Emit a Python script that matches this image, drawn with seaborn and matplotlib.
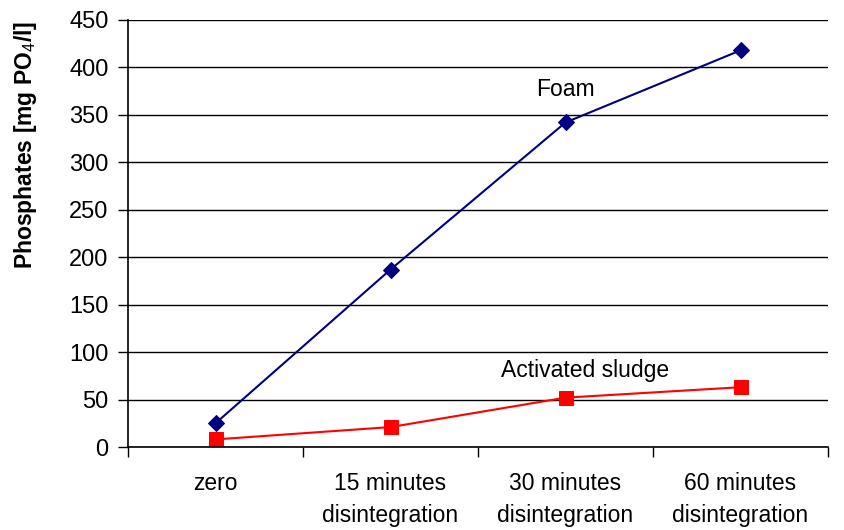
import matplotlib
matplotlib.use("Agg")
import matplotlib.pyplot as plt
import seaborn as sns
import pandas as pd
import numpy as np
from matplotlib.ticker import FixedLocator

categories = ["zero", "15 minutes\ndisintegration", "30 minutes\ndisintegration", "60 minutes\ndisintegration"]
foam = [25, 187, 342, 418]
sludge = [8, 21, 52, 63]
yticks = [0, 50, 100, 150, 200, 250, 300, 350, 400, 450]

sns.set_theme(style="white")
plt.rcParams["font.family"] = ["Liberation Sans", "DejaVu Sans"]
plt.rcParams["text.color"] = "black"
plt.rcParams["axes.labelcolor"] = "black"
plt.rcParams["xtick.color"] = "black"
plt.rcParams["ytick.color"] = "black"
plt.rcParams["mathtext.fontset"] = "custom"
plt.rcParams["mathtext.rm"] = "Liberation Sans"
plt.rcParams["mathtext.it"] = "Liberation Sans:italic:bold"
plt.rcParams["mathtext.bf"] = "Liberation Sans:bold"

pos = np.arange(len(categories))
df = pd.DataFrame({
    "x": np.concatenate([pos, pos]),
    "value": foam + sludge,
    "series": ["Foam"] * 4 + ["Activated sludge"] * 4,
})

fig = plt.figure(figsize=(8.44, 5.30), dpi=100)
ax = fig.add_axes([128/844, 1 - 447/530, (828-128)/844, (447-20)/530])

sns.lineplot(data=df[df.series == "Foam"], x="x", y="value", ax=ax, color="#000080",
             marker="D", markersize=8.5, markeredgecolor="#000080", linewidth=1.5)
sns.lineplot(data=df[df.series == "Activated sludge"], x="x", y="value", ax=ax, color="#ff0000",
             marker="s", markersize=10, markeredgecolor="#ff0000", linewidth=1.5)

ax.set_xlim(-0.5, len(categories) - 0.5)
ax.set_ylim(0, 450)
ax.set_yticks(yticks)
ax.set_yticklabels([str(v) for v in yticks], fontsize=17)
ax.set_xticks(pos)
ax.set_xticklabels(categories, fontsize=16.5, linespacing=1.5, va="top")
ax.xaxis.set_minor_locator(FixedLocator(np.arange(-0.5, len(categories), 1.0)))
ax.tick_params(axis="x", which="major", length=0, pad=18)
ax.tick_params(axis="x", which="minor", length=7, width=1, color="black", direction="out", bottom=True)
ax.tick_params(axis="y", which="major", length=7, width=1, color="black", direction="out", left=True, pad=7)

ax.grid(axis="y", color="black", linewidth=1)
ax.grid(axis="x", visible=False)
ax.set_axisbelow(True)
for s in ["top", "right"]:
    ax.spines[s].set_visible(False)
for s in ["left", "bottom"]:
    ax.spines[s].set_color("black")
    ax.spines[s].set_linewidth(1.2)

ax.set_xlabel("")
ax.set_ylabel(r"Phosphates [mg PO$_\mathit{4}$/l]", fontsize=16.5, fontweight="bold")
ax.yaxis.set_label_coords(-0.127, 0.707)

ax.text(2.0, 377, "Foam", fontsize=16.5, ha="center", va="center")
ax.text(2.11, 81, "Activated sludge", fontsize=16.5, ha="center", va="center")

fig.savefig("out.png", dpi=100)
